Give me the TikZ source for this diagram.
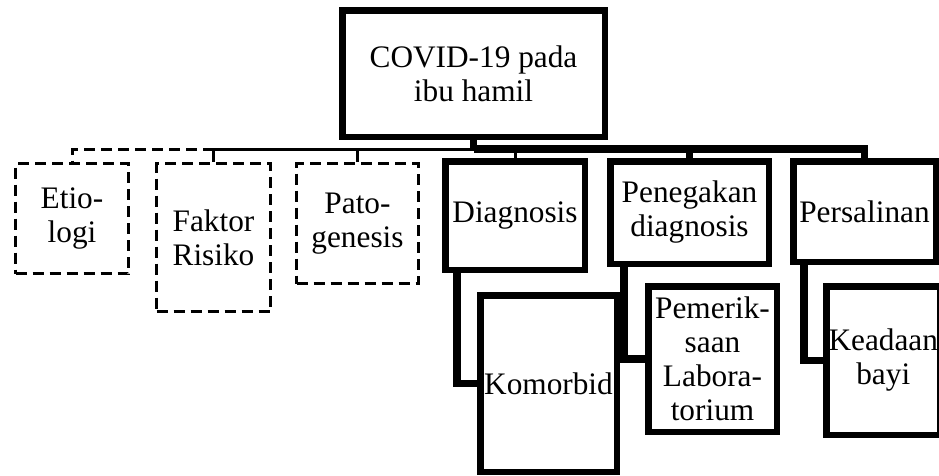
\documentclass[tikz,border=0pt]{standalone}
\usepackage{fontspec}
\setmainfont{Liberation Serif}
\usetikzlibrary{backgrounds}
\begin{document}
\begin{tikzpicture}[x=1pt,y=-1pt,
  every node/.style={font=\fontsize{31.3}{34}\selectfont, align=center, inner sep=0pt},
  solidbox/.style={draw=black, fill=white, line width=6.5pt},
  dashbox/.style={draw=black, fill=white, line width=3pt, dash pattern=on 11pt off 6pt},
  heavyline/.style={draw=black, line width=7.5pt},
  lightline/.style={draw=black, line width=3pt},
  dashline/.style={draw=black, line width=3pt, dash pattern=on 11pt off 6pt}]
\useasboundingbox (0,0) rectangle (939,475);
\clip (0,0) rectangle (939,475);
\coordinate (bus) at (0,149);
\node[solidbox, minimum width=262.5pt, minimum height=126.5pt] (root) at (473.5,73.5) {COVID-19 pada\\ibu hamil};
\node[dashbox, minimum width=113pt, minimum height=110pt] (etio) at (72,218.5) {Etio-\\logi};
\node[dashbox, minimum width=114pt, minimum height=148pt] (fak) at (213.5,237.5) {Faktor\\Risiko};
\node[dashbox, minimum width=122pt, minimum height=120pt] (pato) at (357.5,223.5) {Pato-\\genesis};
\node[solidbox, minimum width=139.5pt, minimum height=108.5pt] (diag) at (515,215.5) {Diagnosis};
\node[solidbox, minimum width=158.5pt, minimum height=102.5pt] (peneg) at (689.5,212.5) {Penegakan\\diagnosis};
\node[solidbox, minimum width=142.5pt, minimum height=100.5pt] (pers) at (864.5,211.5) {Persalinan};
\node[solidbox, minimum width=136.5pt, minimum height=176.5pt] (kom) at (548.5,383.5) {Komorbid};
\node[solidbox, minimum width=128.5pt, minimum height=145.5pt] (pem) at (712.5,359) {Pemerik-\\saan\\Labora-\\torium};
\node[solidbox, minimum width=114pt, minimum height=148.5pt] (kead) at (883.25,360.5) {Keadaan\\bayi};
\begin{pgfonlayer}{background}
  \draw[heavyline] (root.south) -- (root.south |- bus);
  \draw[lightline] (root.south |- bus) -- (fak.north |- bus) -- (fak.north);
  \draw[dashline] (fak.north |- bus) -- (etio.north |- bus) -- (etio.north);
  \draw[lightline] (pato.north) -- (pato.north |- bus);
  \draw[heavyline] (root.south |- bus) -- (pers.north |- bus) -- (pers.north);
  \draw[lightline] (diag.north) -- (diag.north |- bus);
  \draw[heavyline] (peneg.north) -- (peneg.north |- bus);
  \draw[heavyline] ([xshift=15pt]diag.south west) |- (kom.west);
  \draw[heavyline] ([xshift=17pt]peneg.south west) |- (pem.west);
  \draw[heavyline] ([xshift=14pt]pers.south west) |- (kead.west);
\end{pgfonlayer}
\end{tikzpicture}
\end{document}
